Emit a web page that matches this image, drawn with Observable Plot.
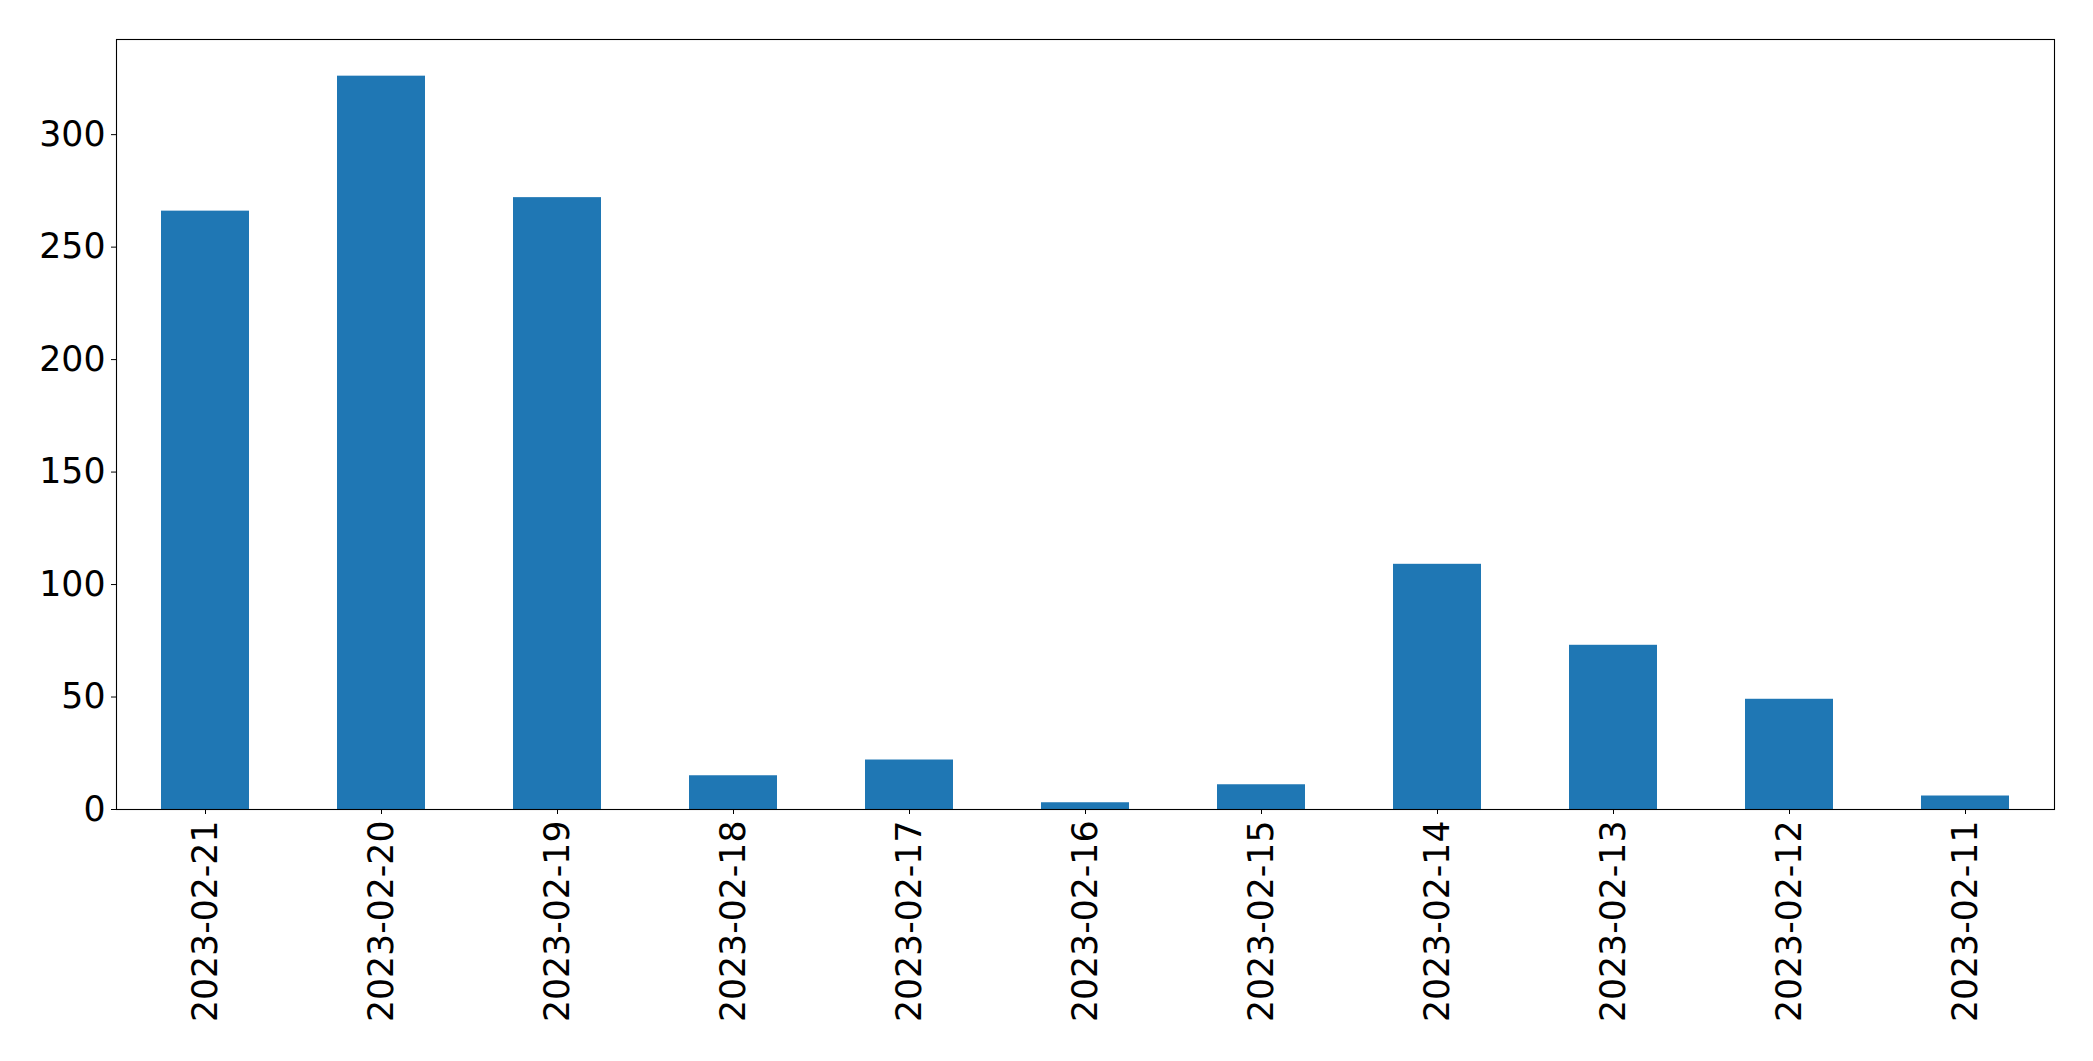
<!DOCTYPE html>
<html>
<head>
<meta charset="utf-8">
<script src="https://cdn.jsdelivr.net/npm/d3@7"></script>
<script src="https://cdn.jsdelivr.net/npm/@observablehq/plot@0.6"></script>
<style>
  html, body { margin: 0; padding: 0; background: #ffffff; }
  #chart svg { display: block; }
</style>
</head>
<body>
<div id="chart"></div>
<script>
const dates = ["2023-02-21", "2023-02-20", "2023-02-19", "2023-02-18", "2023-02-17", "2023-02-16", "2023-02-15", "2023-02-14", "2023-02-13", "2023-02-12", "2023-02-11"];
const counts = [266, 326, 272, 15, 22, 3, 11, 109, 73, 49, 6];
const yTicks = [0, 50, 100, 150, 200, 250, 300];

const data = dates.map((d, i) => ({date: d, count: counts[i]}));

const chart = Plot.plot({
  width: 2093,
  height: 1061,
  marginLeft: 116,
  marginRight: 39,
  marginTop: 39,
  marginBottom: 252,
  style: {fontFamily: "DejaVu Sans", fontSize: "34.7px", color: "#000", background: "#fff"},
  x: {domain: dates, paddingInner: 0.5, paddingOuter: 0.25, align: 0.5, label: null},
  y: {domain: [0, 342.3], label: null},
  marks: [
    Plot.barY(data, {x: "date", y: "count", fill: "#1f77b4"}),
    Plot.axisX({tickRotate: -90, tickSize: 5, tickPadding: 6, fontSize: 34.7, stroke: "#000", strokeOpacity: 1, label: null}),
    Plot.axisY({ticks: yTicks, tickSize: 5, tickPadding: 6, fontSize: 34.7, stroke: "#000", strokeOpacity: 1, label: null}),
    Plot.frame({stroke: "#000", strokeWidth: 1.1})
  ]
});
document.getElementById("chart").appendChild(chart);
</script>
</body>
</html>
